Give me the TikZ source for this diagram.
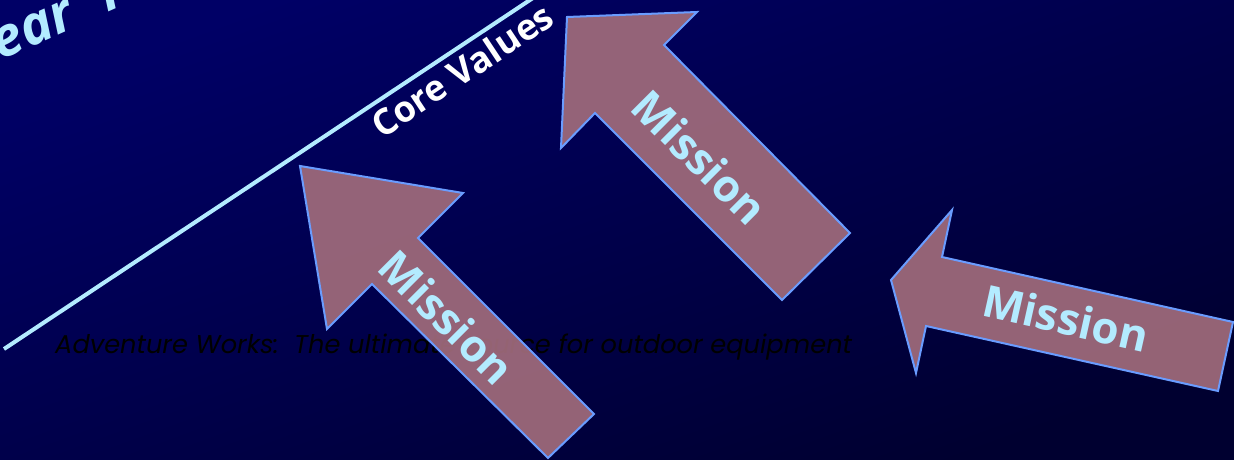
\documentclass[tikz,border=0pt]{standalone}
\usepackage{fontspec}
\setmainfont{Open Sans}
\newfontfamily\geofont{Poppins}

\definecolor{slidetop}{HTML}{000066}
\definecolor{slidebottom}{HTML}{000030}
\definecolor{icecyan}{HTML}{B3EBFF}
\definecolor{mauve}{HTML}{A06B7B}
\definecolor{edgeblue}{HTML}{6A9CFF}

\begin{document}
\begin{tikzpicture}[x=1pt, y=-1pt,
  missionarrow/.style={fill=mauve, fill opacity=0.93, draw=edgeblue, line width=2pt, line join=miter},
  missionlabel/.style={text=icecyan, inner sep=0pt, font=\fontsize{44}{52}\selectfont\bfseries},
]
  \useasboundingbox (0,0) rectangle (1234,460);
  \clip (0,0) rectangle (1234,460);
  \shade[top color=slidetop, bottom color=slidebottom, shading angle=20] (0,0) rectangle (1234,460);

  % title running off the top edge
  \node[anchor=base west, inner sep=0pt, rotate=24, text=icecyan,
        font=\fontsize{54}{62}\selectfont\bfseries\itshape] (title) at (-25,72) {Year\hspace{0.6em}Plan};

  % rising rule with its caption
  \coordinate (ruleA) at (4,349);
  \coordinate (ruleB) at (533,-2);
  \draw[icecyan, line width=4pt] (ruleA) -- (ruleB);
  \node[rotate=33.6, inner sep=0pt, text=white,
        font=\fontsize{36}{42}\selectfont\bfseries] (values) at (462,70) {Core Values};

  \node[anchor=base west, inner sep=0pt, text=black,
        font=\fontsize{25.7}{30}\selectfont\geofont\itshape] (motto) at (55,353)
        {Adventure Works:\ \ The ultimate source for outdoor equipment};

  % three arrows, each with its label
  \draw[missionarrow] (300,166) -- (463,193) -- (418,238) -- (594,414)
    -- (548,458) -- (372,284) -- (327,329) -- cycle;
  \draw[missionarrow] (567,17) -- (697,12) -- (664,45) -- (850,233)
    -- (782,300) -- (595,113) -- (561,148) -- cycle;
  \draw[missionarrow] (891,280) -- (952,210) -- (942,257) -- (1233,322)
    -- (1218,391) -- (926,326) -- (916,373) -- cycle;
  \node[missionlabel, rotate=-45] (missionlow) at (447,317) {Mission};
  \node[missionlabel, rotate=-45] (missionhigh) at (700,157) {Mission};
  \node[missionlabel, rotate=-12.6] (missionside) at (1066,318) {Mission};
\end{tikzpicture}
\end{document}
